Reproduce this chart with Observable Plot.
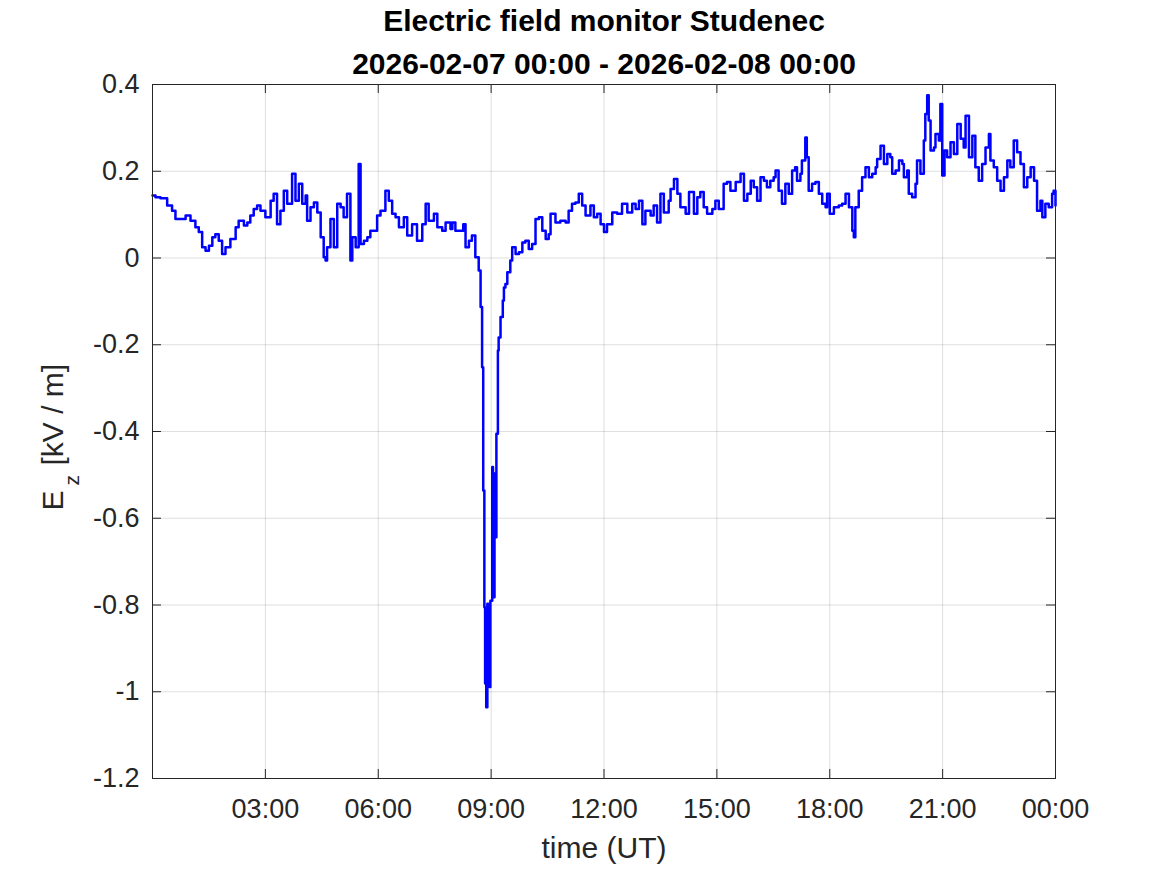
<!DOCTYPE html>
<html>
<head>
<meta charset="utf-8">
<script src="https://cdn.jsdelivr.net/npm/d3@7"></script>
<script src="https://cdn.jsdelivr.net/npm/@observablehq/plot@0.6"></script>
<style>
  html, body { margin: 0; padding: 0; background: #fff; }
</style>
</head>
<body>
<div id="chart"></div>
<script>
// ---- Data ----
const titleLine1 = "Electric field monitor Studenec";
const titleLine2 = "2026-02-07 00:00 - 2026-02-08 00:00";
const xLabel = "time (UT)";
const startDay = Date.UTC(2026, 1, 7);

// hours since 2026-02-07 00:00 UT
const hours = [
  0.00,0.08,0.21,0.39,0.52,0.61,0.74,0.88,1.01,1.14,1.23,1.32,1.41,1.50,1.59,1.67,1.76,1.85,1.94,2.07,
  2.21,2.29,2.43,2.52,2.60,2.69,2.78,2.87,3.00,3.14,3.22,3.31,3.40,3.49,3.58,3.71,3.80,3.89,3.98,4.07,
  4.11,4.20,4.29,4.38,4.47,4.55,4.60,4.64,4.73,4.82,4.91,5.00,5.08,5.17,5.26,5.31,5.40,5.48,5.53,5.62,
  5.71,5.79,5.88,5.97,6.06,6.19,6.28,6.37,6.46,6.55,6.68,6.77,6.90,7.03,7.17,7.26,7.34,7.48,7.57,7.70,
  7.79,7.92,7.97,8.05,8.19,8.26,8.32,8.41,8.49,8.58,8.67,8.72,8.76,8.79,8.82,8.84,8.87,8.90,8.92,8.96,
  8.98,9.03,9.05,9.09,9.12,9.14,9.18,9.20,9.25,9.31,9.34,9.38,9.43,9.51,9.56,9.65,9.74,9.83,9.91,10.00,
  10.09,10.18,10.27,10.36,10.45,10.53,10.58,10.71,10.84,10.98,11.06,11.15,11.24,11.33,11.42,11.51,11.64,11.73,11.82,11.91,
  12.00,12.08,12.22,12.35,12.48,12.62,12.75,12.84,12.93,13.02,13.10,13.24,13.32,13.41,13.50,13.59,13.72,13.77,13.86,13.95,
  14.03,14.17,14.26,14.39,14.48,14.56,14.65,14.74,14.88,14.96,15.05,15.18,15.27,15.36,15.50,15.63,15.72,15.81,15.90,15.98,
  16.07,16.16,16.25,16.33,16.42,16.51,16.56,16.64,16.73,16.82,16.91,17.00,17.08,17.13,17.22,17.26,17.35,17.39,17.44,17.53,
  17.62,17.71,17.80,17.89,17.93,18.00,18.11,18.24,18.33,18.42,18.51,18.60,18.64,18.68,18.77,18.86,18.95,19.04,19.13,19.22,
  19.26,19.35,19.44,19.53,19.61,19.66,19.75,19.84,19.93,19.97,20.06,20.10,20.19,20.28,20.32,20.41,20.50,20.54,20.59,20.63,
  20.68,20.77,20.81,20.90,20.94,20.99,21.05,21.12,21.21,21.30,21.39,21.48,21.56,21.61,21.70,21.79,21.87,21.96,22.05,22.14,
  22.23,22.27,22.36,22.45,22.54,22.63,22.72,22.80,22.89,22.98,23.07,23.16,23.25,23.34,23.43,23.51,23.60,23.65,23.73,23.82,
  23.91,23.95,24.00
];

// vertical electric field E_z [kV/m]
const ez = [
  0.144,0.140,0.138,0.121,0.109,0.090,0.090,0.098,0.086,0.071,0.060,0.025,0.017,0.028,0.048,0.055,0.040,0.009,0.025,0.044,
  0.071,0.086,0.075,0.082,0.098,0.113,0.121,0.109,0.094,0.132,0.148,0.078,0.109,0.155,0.125,0.194,0.132,0.171,0.125,0.144,
  0.086,0.117,0.128,0.105,0.048,0.002,-0.006,0.025,0.090,0.025,0.125,0.117,0.094,0.148,-0.006,0.048,0.025,0.217,0.032,0.040,
  0.048,0.063,0.063,0.098,0.109,0.155,0.132,0.102,0.094,0.071,0.094,0.052,0.078,0.040,0.078,0.125,0.086,0.102,0.071,0.063,
  0.082,0.067,0.082,0.063,0.063,0.078,0.025,0.040,0.052,0.002,-0.029,-0.113,-0.252,-0.536,-0.805,-0.981,-1.036,-0.797,-0.935,-0.989,
  -0.790,-0.482,-0.782,-0.497,-0.644,-0.405,-0.213,-0.183,-0.136,-0.098,-0.068,-0.060,-0.033,-0.006,0.025,0.009,0.013,0.036,0.040,0.021,
  0.032,0.090,0.094,0.063,0.044,0.055,0.102,0.082,0.086,0.082,0.109,0.125,0.128,0.148,0.121,0.098,0.121,0.094,0.102,0.078,
  0.060,0.078,0.105,0.102,0.125,0.105,0.125,0.113,0.132,0.078,0.109,0.098,0.121,0.082,0.148,0.105,0.132,0.159,0.182,0.148,
  0.117,0.102,0.152,0.102,0.140,0.152,0.117,0.102,0.113,0.132,0.113,0.171,0.175,0.155,0.175,0.194,0.132,0.148,0.178,0.163,
  0.132,0.186,0.178,0.163,0.178,0.186,0.202,0.155,0.125,0.171,0.148,0.202,0.209,0.178,0.194,0.225,0.278,0.232,0.155,0.171,
  0.175,0.148,0.125,0.117,0.148,0.102,0.117,0.121,0.125,0.148,0.117,0.063,0.048,0.117,0.155,0.186,0.209,0.186,0.194,0.209,
  0.228,0.259,0.217,0.240,0.232,0.194,0.202,0.225,0.217,0.186,0.202,0.148,0.140,0.171,0.225,0.194,0.271,0.332,0.375,0.317,
  0.248,0.255,0.286,0.271,0.355,0.190,0.248,0.232,0.267,0.240,0.309,0.275,0.255,0.328,0.232,0.282,0.209,0.178,0.217,0.255,
  0.286,0.225,0.209,0.178,0.155,0.186,0.225,0.209,0.271,0.244,0.217,0.163,0.186,0.209,0.178,0.109,0.132,0.094,0.125,0.117,
  0.148,0.155,0.121
];

const yTicks = [-1.2, -1.0, -0.8, -0.6, -0.4, -0.2, 0, 0.2, 0.4];
const xTickHours = [3, 6, 9, 12, 15, 18, 21, 24];

// ---- Build table ----
const toDate = h => new Date(startDay + h * 3600e3);
const rows = hours.map((h, i) => ({t: toDate(h), v: ez[i]}));
const xTicks = xTickHours.map(toDate);
const xGrid = xTicks.slice(0, -1);

const W = 1167, H = 875;
const mL = 152, mR = 112, mT = 84, mB = 97;
const fw = W - mL - mR, fh = H - mT - mB;
const axisColor = "#262626";
const fontFamily = "'Liberation Sans', Arial, Helvetica, sans-serif";
const tickLen = 9;

const chart = Plot.plot({
  width: W,
  height: H,
  marginLeft: mL,
  marginRight: mR,
  marginTop: mT,
  marginBottom: mB,
  style: {fontFamily, fontSize: "27px", color: axisColor, background: "#fff"},
  x: {type: "utc", domain: [toDate(0), toDate(24)]},
  y: {domain: [-1.2, 0.4], nice: false},
  marks: [
    Plot.gridX(xGrid, {stroke: axisColor, strokeOpacity: 0.15, strokeWidth: 1}),
    Plot.gridY(yTicks, {stroke: axisColor, strokeOpacity: 0.15, strokeWidth: 1}),
    Plot.line(rows, {x: "t", y: "v", stroke: "#0000ff", strokeWidth: 2.5, curve: "step-after"}),
    // inward ticks on all four sides (MATLAB box style)
    Plot.tickY(yTicks, {y: d => d, stroke: axisColor, insetRight: fw - tickLen}),
    Plot.tickY(yTicks, {y: d => d, stroke: axisColor, insetLeft: fw - tickLen}),
    Plot.tickX(xTicks, {x: d => d, stroke: axisColor, insetTop: fh - tickLen}),
    Plot.tickX(xTicks, {x: d => d, stroke: axisColor, insetBottom: fh - tickLen}),
    Plot.frame({stroke: axisColor, strokeWidth: 1}),
    Plot.axisX({ticks: xTicks, tickFormat: d3.utcFormat("%H:%M"), tickSize: 0, tickPadding: 20, fontSize: 27, label: null}),
    Plot.axisY({ticks: yTicks, tickFormat: d => String(+d.toFixed(1)), tickSize: 0, tickPadding: 13, fontSize: 27, label: null}),
    // x label
    Plot.text([xLabel], {frameAnchor: "bottom", dy: 79, fontSize: 30, fill: axisColor}),
    // y label E_z [kV / m]
    Plot.text(["E"], {frameAnchor: "left", dx: -99, dy: 79, rotate: -90, textAnchor: "start", fontSize: 30, fill: axisColor}),
    Plot.text(["z"], {frameAnchor: "left", dx: -80, dy: 54, rotate: -90, textAnchor: "start", fontSize: 21, fill: axisColor}),
    Plot.text(["[kV / m]"], {frameAnchor: "left", dx: -99, dy: 34, rotate: -90, textAnchor: "start", fontSize: 30, fill: axisColor}),
    // title
    Plot.text([titleLine1], {frameAnchor: "top", dy: -75, fontSize: 30, fontWeight: "bold", fill: "#000"}),
    Plot.text([titleLine2], {frameAnchor: "top", dy: -32, fontSize: 30, fontWeight: "bold", fill: "#000"})
  ]
});

document.getElementById("chart").appendChild(chart);
</script>
</body>
</html>
